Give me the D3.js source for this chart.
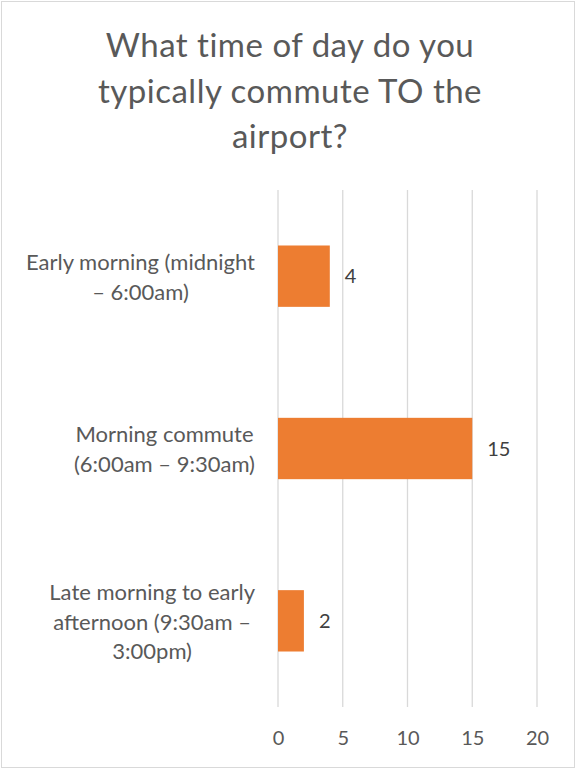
<!DOCTYPE html>
<html>
<head>
<meta charset="utf-8">
<script src="https://cdn.jsdelivr.net/npm/d3@7"></script>
<style>
  html, body { margin: 0; padding: 0; background: #fff; }
  svg { display: block; }
</style>
</head>
<body>
<svg id="chart" width="576" height="769"></svg>
<script>
// Survey responses: commute time to the airport
const categories = [
  ["Early morning (midnight", "– 6:00am)"],
  ["Morning commute", "(6:00am – 9:30am)"],
  ["Late morning to early", "afternoon (9:30am –", "3:00pm)"]
];
const values = [4, 15, 2];
const tickValues = [0, 5, 10, 15, 20];
const titleLines = ["What time of day do you", "typically commute TO the", "airport?"];

const W = 576, H = 769;
const font = "Lato, 'Noto Sans', sans-serif";
const textColor = "#595959";
const barColor = "#ED7D31";
const gridColor = "#D9D9D9";

const svg = d3.select("#chart");

// outer chart border
svg.append("rect")
  .attr("x", 1.5).attr("y", 1.5)
  .attr("width", W - 3).attr("height", H - 3)
  .attr("fill", "#fff").attr("stroke", gridColor).attr("stroke-width", 1);

// title
svg.append("g").selectAll("text").data(titleLines).join("text")
  .attr("x", 290)
  .attr("y", (d, i) => 57 + i * 45.5)
  .attr("text-anchor", "middle")
  .attr("font-family", font)
  .attr("font-size", 33)
  .attr("letter-spacing", 0.5)
  .attr("fill", textColor)
  .text(d => d);

const plot = { left: 278, right: 537, top: 190, bottom: 707 };

const x = d3.scaleLinear().domain([0, 20]).range([plot.left, plot.right]);
const y = d3.scaleBand()
  .domain(d3.range(categories.length))
  .range([plot.top, plot.bottom])
  .paddingInner(0.644)
  .paddingOuter(0.322);

// vertical gridlines
svg.append("g").selectAll("line").data(tickValues).join("line")
  .attr("x1", d => x(d)).attr("x2", d => x(d))
  .attr("y1", plot.top).attr("y2", plot.bottom)
  .attr("stroke", gridColor).attr("stroke-width", 1.3);

// x axis tick labels
const xAxis = d3.axisBottom(x).tickValues(tickValues).tickSize(0).tickPadding(0);
const gx = svg.append("g")
  .attr("transform", `translate(0,${plot.bottom + 24})`)
  .call(xAxis);
gx.select(".domain").remove();
gx.selectAll("text")
  .attr("font-family", font)
  .attr("font-size", 20)
  .attr("fill", textColor);

// bars
svg.append("g").selectAll("rect").data(values).join("rect")
  .attr("x", x(0))
  .attr("y", (d, i) => y(i))
  .attr("width", d => x(d) - x(0))
  .attr("height", y.bandwidth())
  .attr("fill", barColor);

// value labels
svg.append("g").selectAll("text").data(values).join("text")
  .attr("x", d => x(d) + 15)
  .attr("y", (d, i) => y(i) + y.bandwidth() / 2)
  .attr("dy", "0.35em")
  .attr("font-family", font)
  .attr("font-size", 20)
  .attr("fill", "#404040")
  .text(d => d);

// category labels: block right-aligned to the axis, lines centered within block
const labelRight = 255;
const lineH = 29.5;
const catG = svg.append("g");
categories.forEach((lines, i) => {
  const g = catG.append("g");
  const texts = g.selectAll("text").data(lines).join("text")
    .attr("font-family", font)
    .attr("font-size", 22)
    .attr("fill", textColor)
    .attr("text-anchor", "middle")
    .text(d => d);
  let maxW = 0;
  texts.each(function () { maxW = Math.max(maxW, this.getComputedTextLength()); });
  const cx = labelRight - maxW / 2;
  const cy = y(i) + y.bandwidth() / 2 + 1;
  texts
    .attr("x", cx)
    .attr("y", (d, j) => cy + (j - (lines.length - 1) / 2) * lineH)
    .attr("dy", "0.35em");
});
</script>
</body>
</html>
